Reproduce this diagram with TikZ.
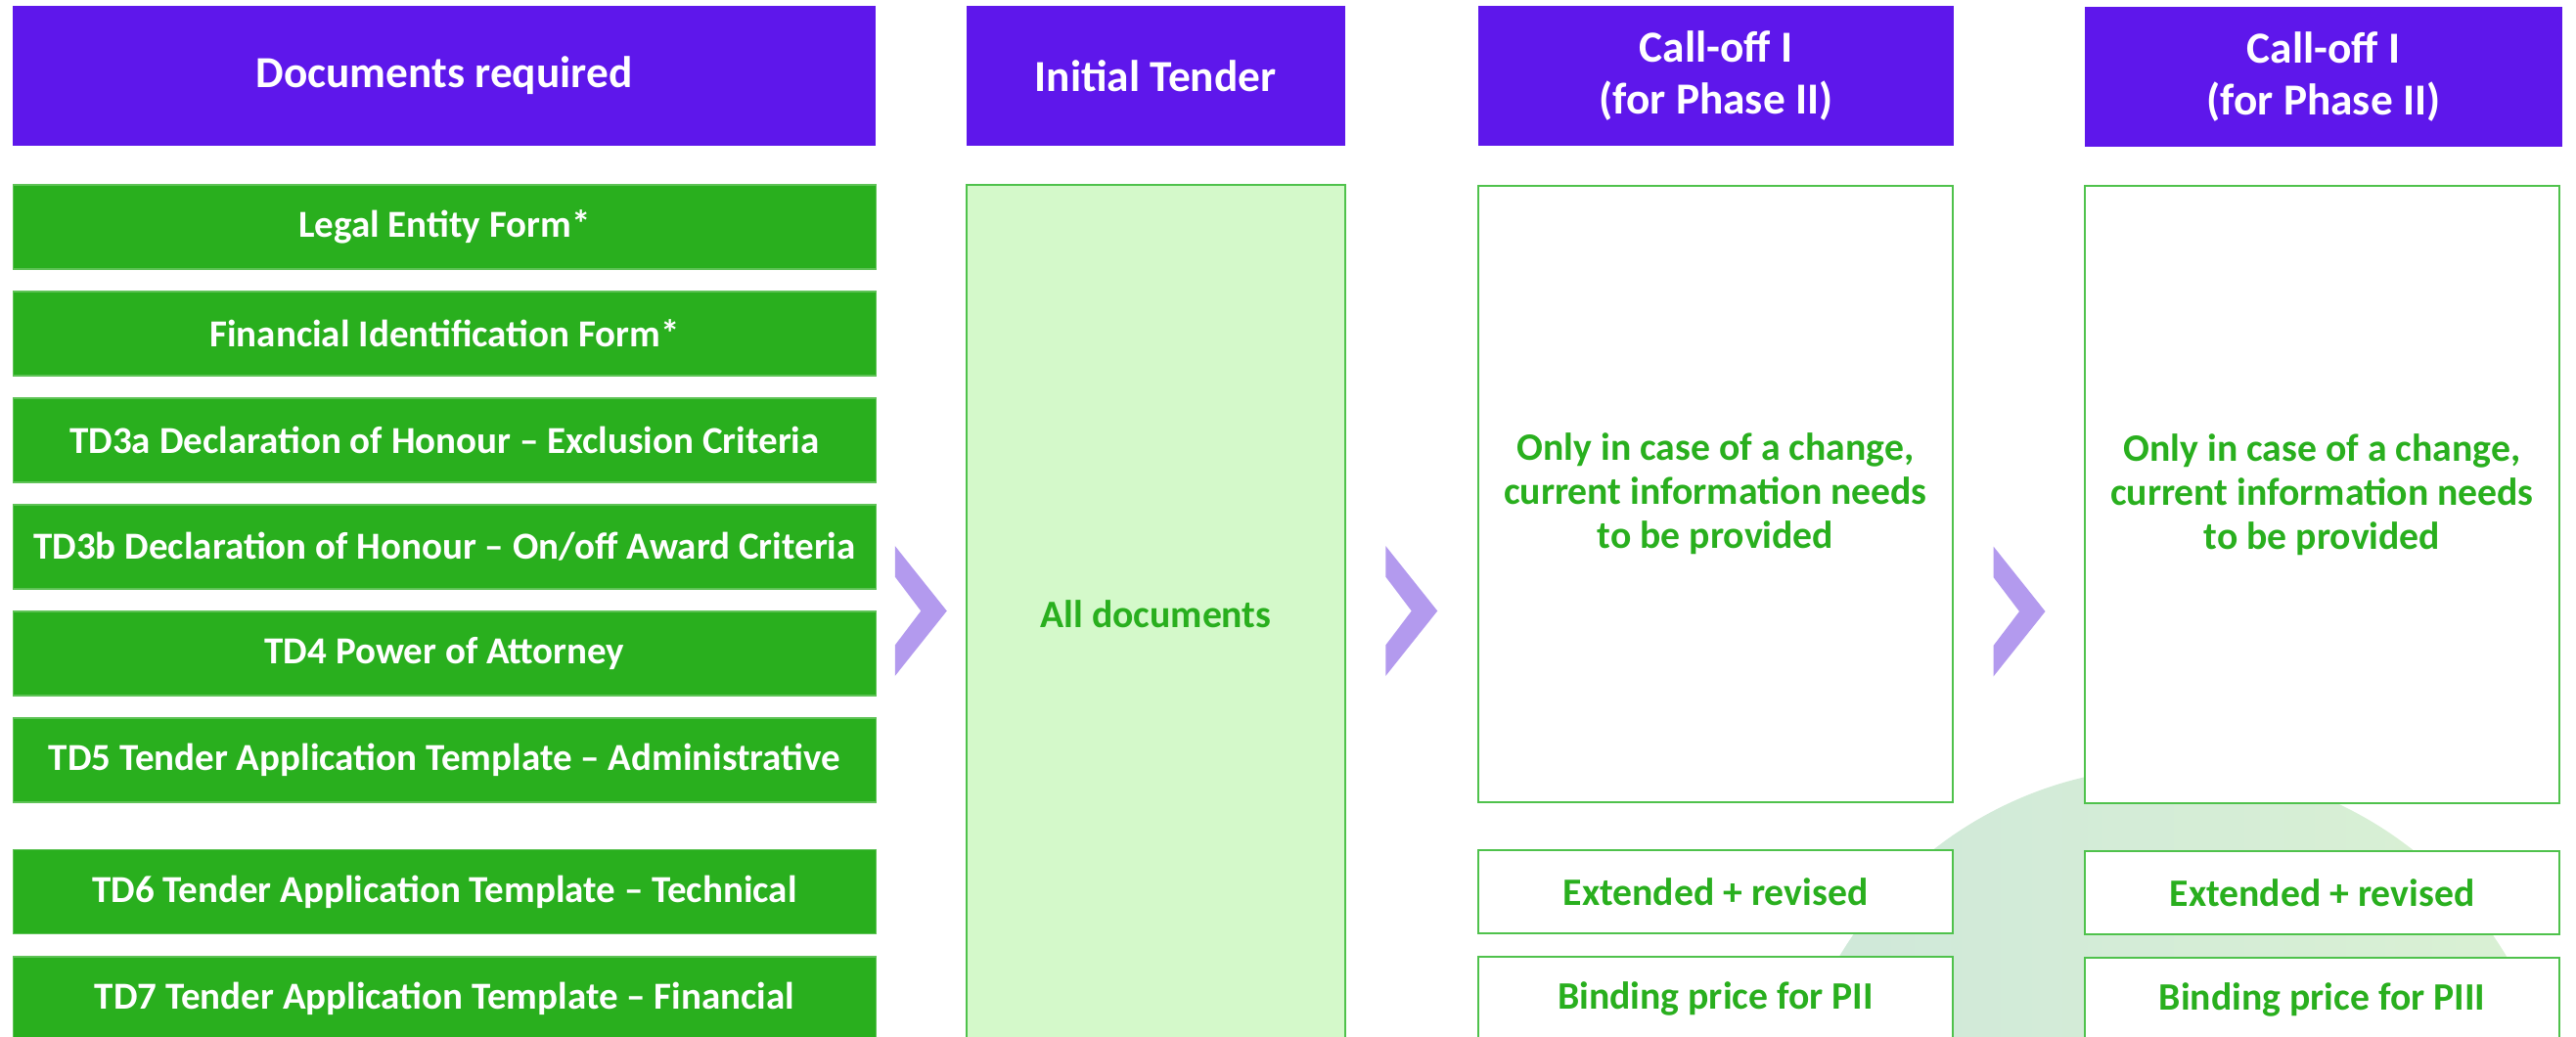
\documentclass[tikz,border=0pt]{standalone}
\usepackage{fontspec}
\setmainfont{Carlito}
\usetikzlibrary{calc}

\definecolor{hdpurple}{HTML}{5E17EB}
\definecolor{docgreen}{HTML}{29AF1E}
\definecolor{palegreen}{HTML}{D4F9CA}
\definecolor{edgegreen}{HTML}{4FC24C}
\definecolor{chevlilac}{HTML}{B39AEE}
\definecolor{blobleft}{HTML}{CFE8DA}
\definecolor{blobright}{HTML}{DAF1D3}

\begin{document}
\begin{tikzpicture}[
    head/.style={fill=hdpurple, text=white, align=center, inner sep=0pt,
        minimum height=1.43cm, font=\fontsize{12.9}{15.3}\selectfont\bfseries},
    doc/.style={fill=docgreen, draw=docgreen!75!white, line width=0.4pt, text=white,
        inner sep=0pt, minimum width=8.82cm, minimum height=0.86cm,
        font=\fontsize{11.1}{13}\selectfont\bfseries},
    note/.style={fill=white, draw=edgegreen, line width=0.6pt, text=docgreen,
        align=center, inner sep=0pt, minimum width=4.85cm,
        font=\fontsize{11.3}{12.8}\selectfont\bfseries},
    chev/.style={fill=chevlilac}
]
    % \draw[lightgray] (0, 0) grid (27, -11);
    \useasboundingbox (0, 0) rectangle (26.33, -10.60);
    \clip (0, 0) rectangle (26.33, -10.60);

    % background blob behind the right column
    \shade[left color=blobleft, right color=blobright] (22.21, -11.81) circle (3.97);

    % column heads
    \node[head, minimum width=8.82cm] (req) at (4.54, -0.775) {Documents required};
    \node[head, minimum width=3.87cm] (init) at (11.81, -0.775) {Initial Tender};
    \node[head, minimum width=4.86cm] (callA) at (17.54, -0.775) {Call-off I\\(for Phase II)};
    \node[head, minimum width=4.88cm] (callB) at (23.75, -0.785) {Call-off I\\(for Phase II)};

    % documents
    \node[doc] (legal) at (4.545, -2.32) {Legal Entity Form*};
    \node[doc] (fin) at (4.545, -3.41) {Financial Identification Form*};
    \node[doc] (tdA) at (4.545, -4.50) {TD3a Declaration of Honour – Exclusion Criteria};
    \node[doc] (tdB) at (4.545, -5.59) {TD3b Declaration of Honour – On/off Award Criteria};
    \node[doc] (tdFour) at (4.545, -6.68) {TD4 Power of Attorney};
    \node[doc] (tdFive) at (4.545, -7.77) {TD5 Tender Application Template – Administrative};
    \node[doc] (tdSix) at (4.545, -9.115) {TD6 Tender Application Template – Technical};
    \node[doc] (tdSeven) at (4.545, -10.21) {TD7 Tender Application Template – Financial};

    % initial tender
    \node[note, fill=palegreen, minimum width=3.87cm, minimum height=8.78cm] (all) at (11.815, -6.28) {All documents};

    % call-offs
    \node[note, minimum height=6.30cm] (changeA) at (17.535, -5.05) {Only in case of a change,\\current information needs\\to be provided};
    \node[note, minimum height=6.31cm] (changeB) at (23.735, -5.055) {Only in case of a change,\\current information needs\\to be provided};
    \node[note, minimum height=0.85cm] (extA) at (17.535, -9.115) {Extended + revised};
    \node[note, minimum height=0.85cm] (extB) at (23.735, -9.125) {Extended + revised};
    \node[note, minimum height=0.86cm] (priceA) at (17.535, -10.21) {Binding price for PII};
    \node[note, minimum height=0.86cm] (priceB) at (23.735, -10.22) {Binding price for PIII};

    % chevrons between the columns
    \foreach \a/\b in {req/init, init/callA, callA/callB}
        \fill[chev, shift={($(\a.east)!0.5!(\b.west) + (0, -5.47)$)}]
            (-0.265, 0.665) -- (0.265, 0) -- (-0.265, -0.665) -- (-0.265, -0.35)
            -- (0, 0) -- (-0.265, 0.35) -- cycle;
\end{tikzpicture}
\end{document}
